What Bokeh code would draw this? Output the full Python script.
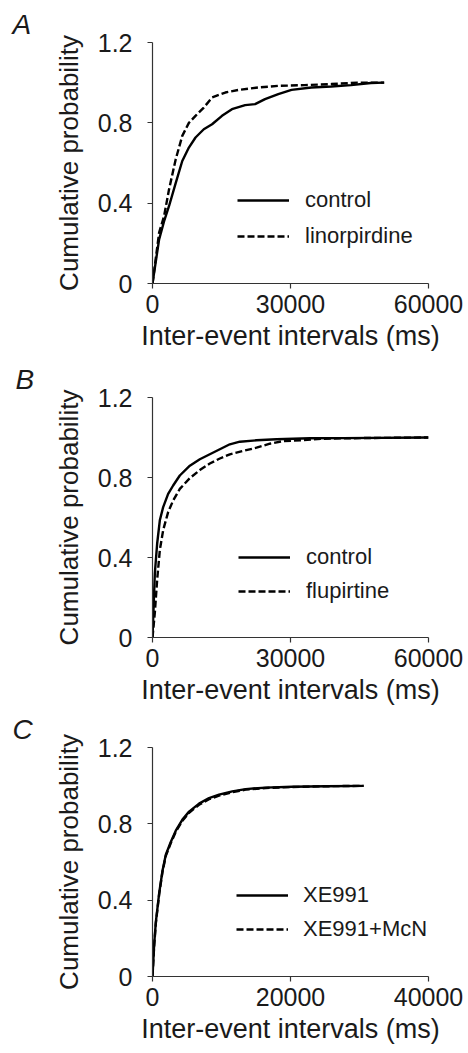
from bokeh.plotting import figure
from bokeh.layouts import column
from bokeh.models import FixedTicker, Range1d, Legend, LegendItem, Title
from bokeh.embed import file_html
from bokeh.resources import INLINE

# ---------------- data ----------------
# Panel A
a_ctrl_x = [0, 1440, 2520, 3600, 5040, 6470, 7910, 9350, 11150, 12950, 15110, 17270,
            20140, 22300, 24460, 27340, 30220, 34530, 38850, 43170, 47480, 50360]
a_ctrl_y = [0, 0.22, 0.31, 0.386, 0.50, 0.61, 0.677, 0.727, 0.768, 0.793, 0.835, 0.868,
            0.888, 0.893, 0.918, 0.943, 0.964, 0.976, 0.981, 0.988, 0.998, 1.0]
a_lin_x = [0, 1440, 2520, 3600, 5040, 6470, 7910, 9350, 11150, 12950, 15830, 18710,
           23020, 27340, 33090, 38850, 44600, 50360]
a_lin_y = [0, 0.253, 0.336, 0.469, 0.618, 0.735, 0.80, 0.835, 0.876, 0.926, 0.951, 0.964,
           0.976, 0.984, 0.988, 0.993, 1.0, 1.0]

# Panel B
b_ctrl_x = [0, 507, 1014, 1594, 2320, 3400, 4490, 5940, 8120, 10290, 12460, 14640, 16810,
            18990, 22610, 26960, 34200, 41450, 60000]
b_ctrl_y = [0, 0.32, 0.47, 0.586, 0.652, 0.718, 0.76, 0.81, 0.859, 0.891, 0.916, 0.941, 0.966,
            0.979, 0.986, 0.991, 0.996, 0.997, 1.0]
b_flu_x = [0, 507, 1014, 1594, 2320, 3400, 4490, 5940, 8120, 10290, 12460, 14640, 16810,
           19710, 22610, 25510, 28410, 32750, 37100, 45070, 60000]
b_flu_y = [0, 0.124, 0.289, 0.4375, 0.537, 0.627, 0.685, 0.743, 0.797, 0.837, 0.87, 0.895, 0.916,
           0.933, 0.949, 0.969, 0.982, 0.987, 0.994, 0.997, 1.0]

# Panel C
c_xe_x = [0, 241, 482, 964, 1446, 1928, 2650, 3373, 4337, 5301, 6747, 8193, 9639, 11566,
          13494, 16386, 20241, 25060, 30600]
c_xe_y = [0, 0.168, 0.285, 0.436, 0.554, 0.638, 0.705, 0.764, 0.822, 0.864, 0.906, 0.935, 0.953,
          0.970, 0.982, 0.99, 0.994, 0.997, 0.999]
c_mcn_x = [0, 241, 482, 964, 1446, 1928, 2650, 3373, 4337, 5301, 6747, 8193, 9639, 11566,
           13494, 16386, 20241, 25060, 30600]
c_mcn_y = [0, 0.160, 0.278, 0.430, 0.548, 0.632, 0.699, 0.758, 0.816, 0.858, 0.900, 0.929, 0.948,
           0.966, 0.979, 0.988, 0.993, 0.997, 0.999]

y_ticks = [0, 0.4, 0.8, 1.2]
y_tick_labels = ["0", "0.4", "0.8", "1.2"]
ab_x_ticks = [0, 30000, 60000]
c_x_ticks = [0, 20000, 40000]

FONT = "Liberation Sans"
TXT = "#1a1a1a"


def make_panel(letter, xmax, xticks, s1, s2, names, height, top, bottom, left, right,
               leg_x, leg_y, leg_spacing, leg_standoff):
    p = figure(width=468, height=height, output_backend="svg", toolbar_location=None,
               x_range=Range1d(0, xmax), y_range=Range1d(0, 1.2),
               min_border_left=left, min_border_right=right,
               min_border_top=top, min_border_bottom=bottom)
    p.outline_line_color = None
    p.xgrid.visible = False
    p.ygrid.visible = False
    p.background_fill_color = "white"
    p.border_fill_color = "white"

    t = Title(text=letter, align="left", offset=-(left - 12),
              text_font=FONT, text_font_size="28px", text_font_style="italic",
              text_color=TXT, standoff=6)
    p.add_layout(t, "above")

    r1 = p.line(s1[0], s1[1], line_color="black", line_width=2.4)
    r2 = p.line(s2[0], s2[1], line_color="black", line_width=2.4, line_dash="7 3")

    for ax in (p.xaxis[0], p.yaxis[0]):
        ax.axis_line_color = "#333333"
        ax.axis_line_width = 1.2
        ax.major_tick_line_color = "#333333"
        ax.major_tick_line_width = 1.2
        ax.major_tick_out = 5
        ax.major_tick_in = 0
        ax.minor_tick_out = 0
        ax.minor_tick_in = 0
        ax.major_label_text_font = FONT
        ax.major_label_text_font_size = "25px"
        ax.major_label_text_color = TXT
        ax.axis_label_text_font = FONT
        ax.axis_label_text_font_style = "normal"
        ax.axis_label_text_color = TXT

    p.xaxis.ticker = FixedTicker(ticks=xticks)
    p.xaxis.major_label_overrides = {t: str(t) for t in xticks}
    p.xaxis.major_label_standoff = 6
    p.xaxis.axis_label = "Inter-event intervals (ms)"
    p.xaxis.axis_label_standoff = 5
    p.xaxis.axis_label_text_font_size = "27px"

    p.yaxis.ticker = FixedTicker(ticks=y_ticks)
    p.yaxis.major_label_overrides = dict(zip(y_ticks, y_tick_labels))
    p.yaxis.major_label_standoff = 15
    p.yaxis.axis_label = "Cumulative probability"
    p.yaxis.axis_label_standoff = 11
    p.yaxis.axis_label_text_font_size = "26px"

    legend = Legend(items=[LegendItem(label=names[0], renderers=[r1]),
                           LegendItem(label=names[1], renderers=[r2])],
                    location=(leg_x, leg_y), orientation="vertical",
                    glyph_width=52, glyph_height=20, label_height=20,
                    label_standoff=leg_standoff, spacing=leg_spacing, padding=0, margin=0,
                    border_line_alpha=0, background_fill_alpha=0,
                    label_text_font=FONT, label_text_font_size="22px",
                    label_text_color=TXT)
    p.add_layout(legend, "center")
    return p


pA = make_panel("A", 60000, ab_x_ticks, (a_ctrl_x, a_ctrl_y), (a_lin_x, a_lin_y),
                ["control", "linorpirdine"], 358, 42, 75, 152, 37,
                85, 34, 10, 16)
pB = make_panel("B", 60000, ab_x_ticks, (b_ctrl_x, b_ctrl_y), (b_flu_x, b_flu_y),
                ["control", "flupirtine"], 350, 36, 71, 149, 40,
                86, 33, 8, 16)
pC = make_panel("C", 40000, c_x_ticks, (c_xe_x, c_xe_y), (c_mcn_x, c_mcn_y),
                ["XE991", "XE991+McN"], 345, 30, 77, 152, 39,
                84, 34, 8, 15)

layout = column(pA, pB, pC, spacing=0)
open("out.html", "w").write(file_html(layout, INLINE))
